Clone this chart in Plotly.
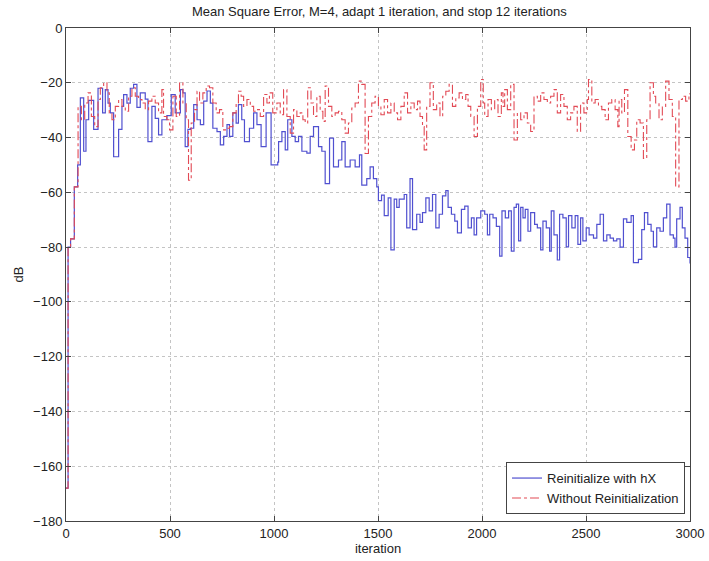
import plotly.graph_objects as go

# Blue: "Reinitialize with hX" (step breakpoints: iteration, dB)
blue_iter = [0, 10, 22, 40, 56, 69, 85, 96, 109, 133, 154, 176, 189, 202, 213, 229, 253, 269, 277, 293,
             309, 325, 341, 357, 381, 394, 413, 429, 445, 461, 485,
             506, 525, 550, 562, 573, 586, 598, 614, 630, 646, 662, 678, 694, 706, 726, 742, 758, 774, 786,
             802, 818, 829, 845, 858, 882, 902, 918, 938, 962, 986,
             1018, 1022, 1038, 1054, 1066, 1086, 1102, 1118, 1134, 1158, 1174, 1190, 1214, 1230, 1246, 1267,
             1286, 1310, 1326, 1342, 1366, 1390, 1411, 1422, 1446, 1462, 1478, 1494, 1502,
             1517, 1530, 1549, 1562, 1578, 1590, 1602, 1626, 1638, 1654, 1666, 1686, 1702, 1714, 1730, 1746,
             1762, 1778, 1794, 1810, 1826, 1837, 1853, 1869, 1882, 1901, 1917, 1933, 1949, 1962, 1974, 1994,
             2013, 2026, 2037, 2053, 2069, 2085, 2096, 2112, 2128, 2141, 2154, 2165, 2176, 2186, 2197, 2208,
             2221, 2234, 2253, 2266, 2282, 2293, 2309, 2325, 2333, 2346, 2362, 2373, 2389, 2405, 2416, 2432,
             2448, 2461, 2474, 2485, 2501,
             2515, 2536, 2552, 2568, 2584, 2600, 2616, 2632, 2648, 2664, 2680, 2696, 2717, 2728, 2752, 2768,
             2781, 2797, 2813, 2824, 2840, 2856, 2872, 2888, 2904, 2920, 2928, 2936, 2952, 2963, 2976, 2989, 3000]
blue_db = [-168, -80, -77, -58, -50, -25.5, -45, -33.5, -26.4, -37, -22, -31, -22.5, -27.4, -31, -47, -37, -28.6, -24.3, -27.4,
           -22, -20.6, -29, -23.7, -26, -41.5, -28.6, -33, -39, -33.5, -32,
           -24.3, -31, -22.5, -23.7, -43.3, -37, -36.6, -28, -33.5, -35.3, -26.7, -23, -27.4, -36.6, -37.8, -42.7, -39.6, -35.3, -39.6,
           -31, -34.7, -28, -33.5, -41.5, -36.6, -31, -35.3, -43.3, -31, -50,
           -49, -41.5, -37.8, -44.5, -33.5, -39.6, -41.5, -39.6, -45, -45.7, -39.6, -36, -43.3, -45, -56.8, -40.2,
           -50.7, -48.2, -41.5, -50.7, -48.2, -50.7, -46.3, -57.4, -55, -50.7, -55, -58, -63,
           -61, -68.5, -62, -81, -62.5, -65.5, -62.5, -60.8, -73, -55, -73.6, -68, -71, -67.4, -62, -66.8,
           -60.8, -73, -68, -61.3, -59.4, -65.5, -68, -70.5, -74.8, -66.2, -65, -73, -69.3, -75.5, -69.3, -66.8,
           -68, -75.5, -68, -69.3, -72.4, -83.3, -66.8, -69.3, -66.8, -81.5, -65.5, -64.3, -77.7, -65.5, -69.3, -66.2,
           -74.2, -67.4, -71.7, -73, -81, -70.5, -73, -81.5, -66.8, -75.5, -84.7, -68, -69.3, -79.9, -68.5, -73,
           -68.5, -79, -69.3, -77.7, -73,
           -75.5, -76.7, -71.7, -68, -77.7, -75.5, -76.7, -77.7, -77, -80, -69.7, -71, -68.5, -85.7, -84.5, -73.6,
           -67.4, -71.7, -74.2, -79.9, -73, -74.2, -69.3, -64.3, -75.5, -76.7, -80, -69.7, -65.5, -73, -76.7, -83.8, -86]

# Red: "Without Reinitialization"
red_iter = [0, 10, 22, 40, 58, 74, 90, 106, 122, 138, 154, 165, 181, 197, 208, 221, 237, 253, 269, 285,
            301, 317, 333, 349, 365, 381, 397, 413, 429, 445, 461, 469, 485,
            498, 514, 530, 546, 562, 578, 589, 602, 618, 630, 642, 658, 674, 690, 706, 722, 738, 754, 770, 786,
            802, 818, 829, 842, 854, 870, 886, 902, 918, 934, 950, 966, 978, 994,
            1014, 1030, 1046, 1062, 1078, 1094, 1110, 1126, 1139, 1150, 1162, 1178, 1190, 1206, 1222, 1235, 1246,
            1262, 1278, 1294, 1310, 1326, 1342, 1358, 1374, 1390, 1406, 1422, 1438, 1454, 1470, 1486, 1502,
            1514, 1530, 1546, 1562, 1578, 1594, 1610, 1626, 1642, 1658, 1674, 1690, 1702, 1714, 1722, 1734, 1750,
            1766, 1782, 1798, 1811, 1826, 1842, 1858, 1874, 1890, 1906, 1922, 1933, 1946, 1962, 1978, 1994, 2006,
            2013, 2029, 2045, 2061, 2077, 2093, 2101, 2109, 2122, 2138, 2154, 2170, 2186, 2202, 2218, 2234, 2250,
            2266, 2282, 2298, 2314, 2330, 2346, 2362, 2378, 2394, 2410, 2426, 2442, 2458, 2474, 2490, 2506,
            2512, 2528, 2544, 2560, 2576, 2592, 2608, 2624, 2640, 2653, 2659, 2672, 2685, 2701, 2717, 2733, 2744,
            2760, 2776, 2792, 2808, 2824, 2835, 2851, 2867, 2883, 2899, 2915, 2931, 2947, 2963, 2979, 2995, 3000]
red_db = [-168, -80, -77, -58, -28.6, -33.5, -27.4, -23.7, -32.3, -36, -26.1, -21.8, -20, -23.7, -31, -33.5, -28.6, -26.1, -28.6,
          -30.4, -24.9, -21.8, -24.9, -26.1, -27.4, -29.8, -26.7, -24.9, -27.4, -31, -22.5, -32.3, -33.5,
          -37.2, -24.9, -32.3, -20, -27.4, -33.5, -55.6, -34.7, -29.8, -23.1, -27.4, -23.7, -21.2, -21.8, -27.4, -31, -29.8,
          -37.2, -36.6, -36, -31, -27.4, -23.1, -24.9, -28.6, -26.1, -28.6, -30.4, -29.8, -32.3, -24.3, -27.4, -23.7, -31,
          -27.4, -31.7, -22.5, -32.3, -38.4, -29.8, -32.3, -31, -33.5, -34.7, -21.8, -27.4, -32.3, -24.9, -30.4, -34.1,
          -21.2, -28.6, -32.3, -31, -30.4, -33.5, -38.4, -34.7, -29.2, -27.4, -19.4, -20.6, -45.8, -32.3, -27.4,
          -24.9, -28.6, -31.7,
          -26.1, -31, -27.4, -31, -33.5, -28.6, -23.7, -31, -27.4, -29.8, -26.7, -32.3, -36, -44.5, -28.6, -20,
          -29.8, -27.4, -32.3, -24.9, -23.1, -20.6, -28.6, -25.5, -23.7, -26.1, -24.3, -28.6, -32.3, -39.6, -28.6,
          -18.8, -27.4, -32.3, -26.1,
          -29.8, -26.1, -32.3, -23.7, -28.6, -22.5, -29.8, -20.6, -40.9, -31, -33.5, -31, -34.7, -37.8, -24.9, -26.7,
          -23.7, -26.1, -27.4, -24.9, -22.5, -31, -24.3, -28.6, -33.5, -31, -28.6, -37.8, -27.4, -31, -26.1, -18.8,
          -27.4, -26.1,
          -28.6, -29.8, -33.5, -27.4, -26.1, -29.8, -36, -26.1, -31, -22.5, -39.6, -44.5, -40.9, -33.5, -34.7,
          -47.6, -33.5, -20, -24.9, -27.4, -33.5, -28.6, -19.4, -26.1, -32.3, -58, -26.1, -24.9, -26.7, -24.9,
          -23.7, -27.4, -28.6, -28.6]

x_ticks = [0, 500, 1000, 1500, 2000, 2500, 3000]
y_ticks = [0, -20, -40, -60, -80, -100, -120, -140, -160, -180]

title_text = "Mean Square Error, M=4, adapt 1 iteration, and stop 12 iterations"

FONT = "Liberation Sans, Arial"

fig = go.Figure()
fig.add_trace(go.Scatter(x=blue_iter, y=blue_db, mode="lines", line_shape="hv",
                         name="Reinitialize with hX",
                         line=dict(color="#5050d0", width=1.2)))
fig.add_trace(go.Scatter(x=red_iter, y=red_db, mode="lines", line_shape="hv",
                         name="Without Reinitialization",
                         line=dict(color="#e24a55", width=1.1, dash="dashdot")))

axis_common = dict(showline=True, linecolor="#444", linewidth=1, mirror="ticks",
                   ticks="inside", ticklen=5, tickcolor="#444", automargin=False,
                   showgrid=True, gridcolor="#c4c4c4", griddash="dot", gridwidth=1,
                   zeroline=False, tickfont=dict(family=FONT, size=13, color="#222"))

fig.update_layout(
    width=709, height=561,
    margin=dict(l=66, r=19, t=28, b=40),
    paper_bgcolor="white", plot_bgcolor="white",
    title=dict(text=title_text, x=0.535, xanchor="center", y=0.979, yanchor="middle",
               font=dict(family=FONT, size=13, color="#222")),
    xaxis=dict(range=[0, 3000], tickvals=x_ticks,
               title=dict(text="iteration", standoff=2,
                          font=dict(family=FONT, size=13, color="#222")),
               **axis_common),
    yaxis=dict(range=[-180, 0], tickvals=y_ticks,
               title=dict(text="dB", standoff=6,
                          font=dict(family=FONT, size=13, color="#222")),
               **axis_common),
    legend=dict(x=0.992, y=0.014, xanchor="right", yanchor="bottom",
                bgcolor="white", bordercolor="#444", borderwidth=1,
                font=dict(family=FONT, size=13, color="#222"),
                tracegroupgap=0, itemwidth=30),
    showlegend=True,
)

fig.write_html("out.html")
